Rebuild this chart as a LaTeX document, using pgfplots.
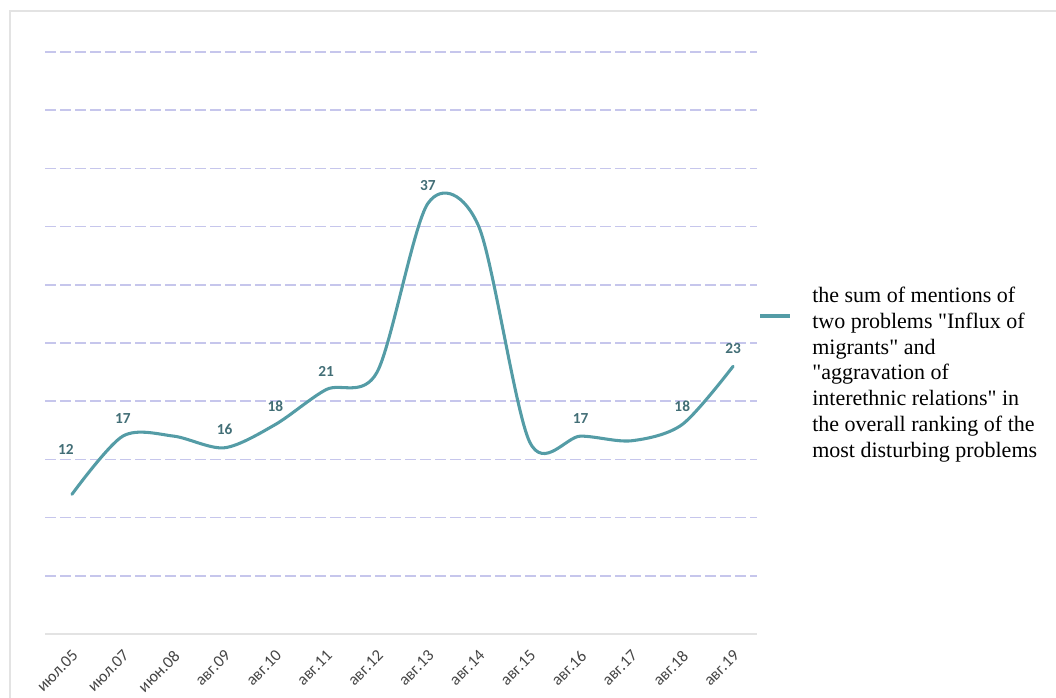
\documentclass[border=0pt]{standalone}
\usepackage{pgfplots}
\pgfplotsset{compat=1.18}
\usepackage{fontspec}
\newfontfamily\legfont{Liberation Serif}
\newfontfamily\carlito{Carlito}
\definecolor{linec}{RGB}{84,156,166}
\definecolor{labc}{RGB}{66,110,118}
\definecolor{gridc}{RGB}{198,198,236}
\definecolor{tickc}{RGB}{70,70,70}
\begin{document}
\begin{tikzpicture}[x=0.75pt,y=0.75pt]
\useasboundingbox (0,0) rectangle (1056,697);
\draw[gray!22, line width=1pt] (10,686) rectangle (1080,-30);
\begin{axis}[
  at={(33.75pt,47.25pt)}, anchor=south west,
  scale only axis, width=534pt, height=436.5pt,
  xmin=-0.53, xmax=13.47, ymin=0, ymax=50,
  axis x line*=bottom, axis y line*=left,
  x axis line style={draw=gray!22, line width=1.2pt, -},
  y axis line style={draw=none},
  ytick={5,10,...,50}, yticklabels={},
  ymajorgrids,
  grid style={gridc, line width=1.3pt, dash pattern=on 8.25pt off 3pt},
  xtick={0,...,13},
  xticklabels={июл.05,июл.07,июн.08,авг.09,авг.10,авг.11,авг.12,авг.13,авг.14,авг.15,авг.16,авг.17,авг.18,авг.19},
  tick style={draw=none},
  xticklabel style={xshift=2.5pt, yshift=-14.2pt, rotate=45, anchor=east, inner sep=0pt,
    font=\carlito\fontsize{12.5}{13}\selectfont, text=tickc},
  clip=false,
]
\addplot[linec, line width=2.3pt, smooth, line cap=round] coordinates {
  (0,12) (1,17) (2,17) (3,16) (4,18) (5,21) (6,22.5) (7,37) (8,35) (9,16.5) (10,17) (11,16.6) (12,18) (13,23)
};
\addplot[draw=none, mark=none, nodes near coords, point meta=explicit symbolic,
  nodes near coords style={font=\carlito\bfseries\fontsize{11.5}{12}\selectfont, text=labc, anchor=south, inner sep=0pt, yshift=9.5pt}]
  coordinates {(1,17)[17] (3,16)[16] (4,18)[18] (5,21)[21] (7,37)[37] (10,17)[17] (12,18)[18] (13,23)[23]};
\addplot[draw=none, mark=none, nodes near coords, point meta=explicit symbolic,
  nodes near coords style={font=\carlito\bfseries\fontsize{11.5}{12}\selectfont, text=labc, anchor=south, inner sep=0pt, yshift=30pt, xshift=-4.5pt}]
  coordinates {(0,12)[12]};
\end{axis}
\draw[linec, line width=2.3pt] (760,381) -- (790,381);
\node[anchor=north west, inner sep=0pt, align=left, font=\legfont\fontsize{16.5}{19.3}\selectfont] at (812,410)
  {the sum of mentions of\\two problems "Influx of\\migrants" and\\"aggravation of\\interethnic relations" in\\the overall ranking of the\\most disturbing problems};
\end{tikzpicture}
\end{document}
